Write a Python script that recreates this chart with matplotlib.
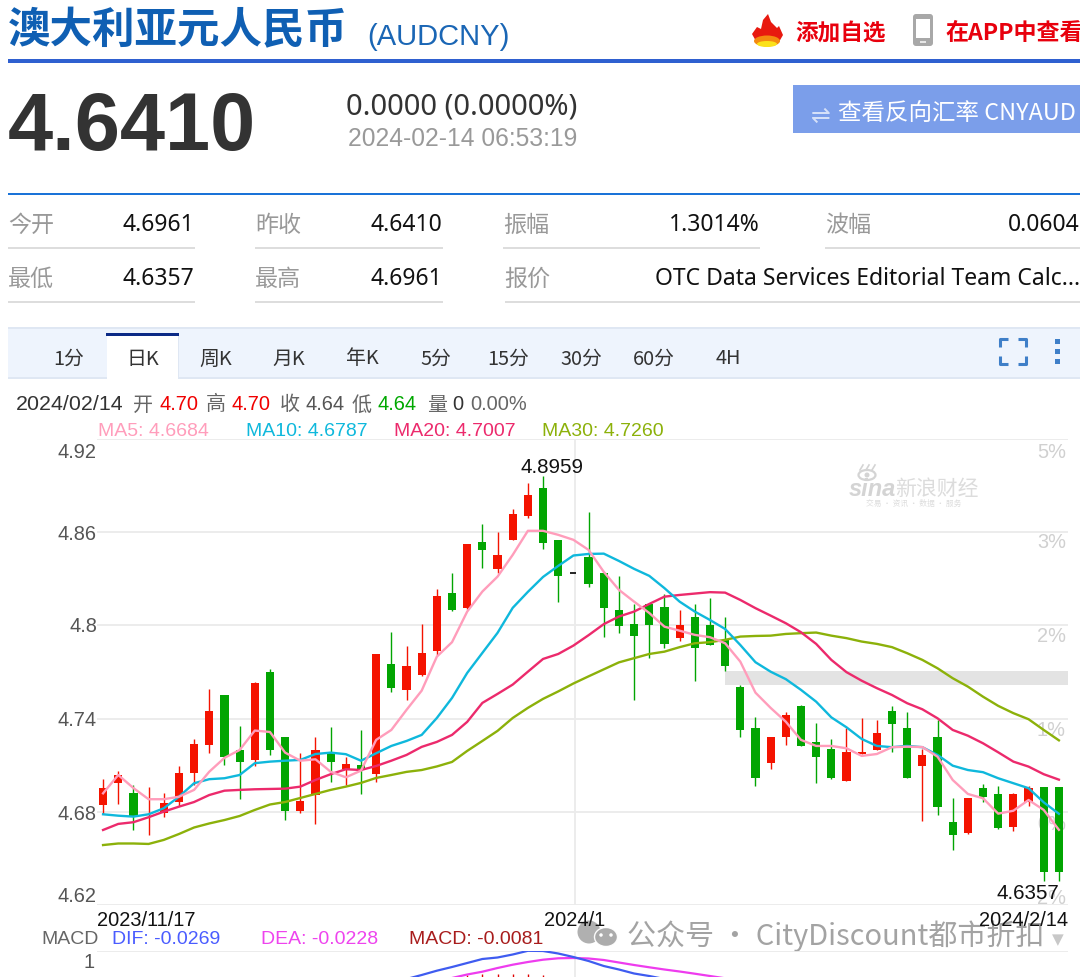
"""AUDCNY quote page with the daily K-line and MA overlays, saved as out.png."""
import matplotlib

matplotlib.use("Agg")
import matplotlib.pyplot as plt
from matplotlib.patches import Rectangle, Ellipse, Polygon, FancyBboxPatch

W, H = 1080, 977
CJK = ["Noto Sans CJK SC", "DejaVu Sans"]
ARIAL = "Liberation Sans"
RED = "#f41300"
GREEN = "#02a502"
C_MA5 = "#ff9dbb"
C_MA10 = "#0fb8dc"
C_MA20 = "#ec2a6c"
C_MA30 = "#8cb10a"
GRID = "#ebebeb"

# ---- data -------------------------------------------------------------------
opens = [4.6844, 4.6988, 4.6921, 4.6873, 4.6794, 4.6863, 4.7052, 4.7230, 4.7552, 4.7198,
         4.7134, 4.7701, 4.7282, 4.6805, 4.6908, 4.7187, 4.7074, 4.7102, 4.7042, 4.7752,
         4.7585, 4.7681, 4.7836, 4.8211, 4.8111, 4.8538, 4.8362, 4.8551, 4.8707, 4.8883,
         4.8549, 4.8336, 4.8441, 4.8338, 4.8098, 4.8012, 4.8138, 4.8117, 4.7921, 4.8055,
         4.8001, 4.7907, 4.7604, 4.7342, 4.7114, 4.7282, 4.7480, 4.7248, 4.7205, 4.7000,
         4.7174, 4.7200, 4.7447, 4.7342, 4.7093, 4.7280, 4.6735, 4.6662, 4.6953, 4.6913,
         4.6704, 4.6863, 4.6961, 4.6961]
closes = [4.6952, 4.7037, 4.6773, 4.6879, 4.6859, 4.7050, 4.7237, 4.7449, 4.7155, 4.7123,
          4.7628, 4.7198, 4.6807, 4.6870, 4.7198, 4.7123, 4.7110, 4.7076, 4.7814, 4.7596,
          4.7739, 4.7825, 4.8192, 4.8100, 4.8527, 4.8488, 4.8454, 4.8716, 4.8840, 4.8533,
          4.8321, 4.8336, 4.8267, 4.8111, 4.7995, 4.7932, 4.8003, 4.7881, 4.8001, 4.7857,
          4.7876, 4.7741, 4.7325, 4.7020, 4.7280, 4.7426, 4.7226, 4.7155, 4.7020, 4.7185,
          4.7185, 4.7310, 4.7366, 4.7020, 4.7166, 4.6831, 4.6653, 4.6891, 4.6894, 4.6694,
          4.6913, 4.6952, 4.6413, 4.6410]
highs = [4.7011, 4.7065, 4.6973, 4.6960, 4.6921, 4.7095, 4.7271, 4.7593, 4.7552, 4.7353,
         4.7636, 4.7720, 4.7282, 4.7181, 4.7282, 4.7346, 4.7153, 4.7327, 4.7814, 4.7960,
         4.7868, 4.8010, 4.8233, 4.8336, 4.8527, 4.8654, 4.8600, 4.8752, 4.8916, 4.8959,
         4.8549, 4.8336, 4.8729, 4.8338, 4.8319, 4.8138, 4.8138, 4.8201, 4.8100, 4.8136,
         4.8175, 4.8053, 4.7615, 4.7409, 4.7280, 4.7441, 4.7490, 4.7372, 4.7267, 4.7338,
         4.7402, 4.7391, 4.7483, 4.7441, 4.7203, 4.7391, 4.6887, 4.6891, 4.6979, 4.6966,
         4.6921, 4.6968, 4.6961, 4.6961]
lows = [4.6784, 4.6850, 4.6683, 4.6651, 4.6767, 4.6838, 4.6973, 4.7181, 4.7102, 4.6883,
        4.7095, 4.7166, 4.6747, 4.6794, 4.6722, 4.6994, 4.6973, 4.6915, 4.6994, 4.7572,
        4.7520, 4.7675, 4.7810, 4.8093, 4.8106, 4.8368, 4.8340, 4.8551, 4.8690, 4.8491,
        4.8153, 4.8336, 4.8250, 4.7928, 4.7950, 4.7518, 4.7793, 4.7857, 4.7902, 4.7644,
        4.7876, 4.7707, 4.7284, 4.6968, 4.7076, 4.7230, 4.7226, 4.6988, 4.7010, 4.7000,
        4.7174, 4.7200, 4.7185, 4.7020, 4.6739, 4.6782, 4.6552, 4.6657, 4.6865, 4.6689,
        4.6675, 4.6839, 4.6357, 4.6357]

ma5 = [4.6919, 4.7037, 4.6953, 4.6881, 4.6881, 4.6897, 4.6941, 4.7058, 4.7147, 4.7198,
       4.7323, 4.7314, 4.7181, 4.7129, 4.7138, 4.7058, 4.7022, 4.7065, 4.7263, 4.7327,
       4.7456, 4.7580, 4.7799, 4.7892, 4.8089, 4.8218, 4.8314, 4.8454, 4.8609, 4.8609,
       4.8583, 4.8551, 4.8486, 4.8345, 4.8229, 4.8153, 4.8080, 4.7992, 4.7966, 4.7939,
       4.7924, 4.7885, 4.7767, 4.7567, 4.7469, 4.7380, 4.7263, 4.7224, 4.7224, 4.7209,
       4.7160, 4.7172, 4.7216, 4.7219, 4.7217, 4.7155, 4.7005, 4.6915, 4.6887, 4.6788,
       4.6807, 4.6876, 4.6812, 4.6684]
ma10 = [4.6784, 4.6775, 4.6769, 4.6784, 4.6823, 4.6897, 4.6984, 4.7010, 4.7016, 4.7037,
        4.7113, 4.7123, 4.7129, 4.7134, 4.7172, 4.7181, 4.7171, 4.7129, 4.7177, 4.7224,
        4.7256, 4.7295, 4.7404, 4.7533, 4.7694, 4.7823, 4.7952, 4.8113, 4.8216, 4.8312,
        4.8383, 4.8450, 4.8460, 4.8462, 4.8415, 4.8364, 4.8319, 4.8240, 4.8153, 4.8089,
        4.8035, 4.7977, 4.7874, 4.7763, 4.7702, 4.7654, 4.7585, 4.7509, 4.7408, 4.7344,
        4.7269, 4.7224, 4.7216, 4.7224, 4.7216, 4.7166, 4.7097, 4.7069, 4.7055, 4.7016,
        4.6984, 4.6952, 4.6861, 4.6787]
ma20 = [4.6683, 4.6722, 4.6733, 4.6765, 4.6801, 4.6833, 4.6863, 4.6908, 4.6936, 4.6941,
        4.6945, 4.6947, 4.6949, 4.6962, 4.7005, 4.7042, 4.7074, 4.7069, 4.7095, 4.7129,
        4.7166, 4.7218, 4.7250, 4.7295, 4.7379, 4.7501, 4.7559, 4.7619, 4.7702, 4.7784,
        4.7816, 4.7870, 4.7937, 4.8008, 4.8057, 4.8089, 4.8138, 4.8185, 4.8196, 4.8205,
        4.8214, 4.8211, 4.8164, 4.8111, 4.8063, 4.8014, 4.7956, 4.7881, 4.7778, 4.7699,
        4.7644, 4.7596, 4.7552, 4.7499, 4.7460, 4.7402, 4.7327, 4.7290, 4.7241, 4.7183,
        4.7123, 4.7091, 4.7042, 4.7007]
ma30 = [4.6586, 4.6596, 4.6596, 4.6593, 4.6619, 4.6657, 4.6699, 4.6725, 4.6747, 4.6773,
        4.6812, 4.6847, 4.6863, 4.6889, 4.6915, 4.6941, 4.6962, 4.6986, 4.7018, 4.7037,
        4.7057, 4.7069, 4.7092, 4.7121, 4.7192, 4.7256, 4.7321, 4.7404, 4.7469, 4.7527,
        4.7575, 4.7626, 4.7672, 4.7717, 4.7762, 4.7789, 4.7816, 4.7831, 4.7860, 4.7885,
        4.7892, 4.7907, 4.7928, 4.7932, 4.7934, 4.7945, 4.7950, 4.7954, 4.7934, 4.7918,
        4.7896, 4.7881, 4.7860, 4.7821, 4.7778, 4.7724, 4.7660, 4.7606, 4.7541, 4.7482,
        4.7435, 4.7396, 4.7327, 4.7260]

price_ticks = [4.62, 4.68, 4.74, 4.80, 4.86, 4.92]
price_labels = ["4.62", "4.68", "4.74", "4.8", "4.86", "4.92"]
pct_labels = ["5%", "3%", "2%", "1%", "0%", "2%"]
date_labels = ["2023/11/17", "2024/1", "2024/2/14"]
month_tick = 31
band_low, band_high, band_start = 4.7617, 4.7707, 41

dif_idx = list(range(20, 38))
dif = [0.525, 0.625, 0.7325, 0.825, 0.925, 1.025, 1.0625, 1.1375, 1.23,
       1.225, 1.1625, 1.075, 0.975, 0.85, 0.7625, 0.6625, 0.6, 0.525]
dea_idx = list(range(22, 42))
dea = [0.475, 0.55, 0.6375, 0.7075, 0.8, 0.8825, 0.95, 1.0075, 1.0425, 1.05,
       1.0375, 1.0, 0.9375, 0.875, 0.8175, 0.7625, 0.7125, 0.6575, 0.6, 0.5425]
hist_idx = [24, 25, 26, 27, 28, 29]
hist = [0.62, 0.65, 0.64, 0.66, 0.65, 0.63]

tabs = ["1分", "日K", "周K", "月K", "年K", "5分", "15分", "30分", "60分", "4H"]
tab_x = [69, 143, 216, 289, 362, 436, 508, 581, 654, 728]

# ---- figure and page layer (pixel coordinates) -------------------------------
fig = plt.figure(figsize=(W / 100, H / 100), dpi=100, facecolor="white")
page = fig.add_axes([0, 0, 1, 1], zorder=1)
page.set_xlim(0, W)
page.set_ylim(H, 0)
page.axis("off")


def put(x, y, s, size, color="#333333", family=ARIAL, ha="left", weight="normal", **kw):
    # va="center" sits about 2px high against the reference text
    return page.text(x, y + 2, s, fontsize=size, color=color, family=family, ha=ha, va="center",
                     weight=weight, **kw)


def box(x0, y0, x1, y1, color, **kw):
    page.add_patch(Rectangle((x0, y0), x1 - x0, y1 - y0, fc=color, ec="none", **kw))


# header
put(8, 28, "澳大利亚元人民币", 30.6, "#0f5fb3", CJK, weight="bold")
put(367, 35, "(AUDCNY)", 21, "#1a66b5")
box(8, 59, W, 63, "#2f60d0")
page.add_patch(Polygon([(752, 34), (757, 27), (761, 29), (763, 20), (768, 14), (771, 22), (777, 28),
                        (779, 26), (783, 35), (779, 42), (768, 46), (757, 43)], fc="#e8190f", ec="none"))
page.add_patch(Ellipse((767, 41), 26, 11, fc="#f48a10", ec="none"))
page.add_patch(Ellipse((767, 44), 20, 6, fc="#fbe21a", ec="none"))
put(795, 32, "添加自选", 16.3, "#e8000d", CJK, weight="bold")
page.add_patch(FancyBboxPatch((914, 15), 18, 30, boxstyle="round,pad=1,rounding_size=3", fc="#a8a8a8", ec="none"))
box(916, 19, 930, 38, "white")
box(920, 41, 926, 43, "#e6e6e6")
put(945, 32, "在APP中查看", 16.6, "#e8000d", CJK, weight="bold")

# quote block
put(8, 127, "4.6410", 58.4, "#333333", weight="bold")
put(346, 105, "0.0000 (0.0000%)", 21, "#333333", "Noto Sans")
put(348, 137, "2024-02-14 06:53:19", 17.7, "#999999")
box(793, 85, W, 133, "#7b9eea")
put(811, 114, "⇌", 17, "#d5e0f8", "DejaVu Sans")
put(838, 111, "查看反向汇率 CNYAUD", 16.9, "white", CJK)
box(8, 193, W, 195, "#1a73d8")

# stats table
for x0, x1, y in [(8, 195, 248), (255, 443, 248), (503, 760, 248), (825, W, 248),
                  (8, 195, 302), (255, 443, 302), (505, W, 302)]:
    box(x0, y - 1, x1, y + 1, "#dddddd")
for x, y, s in [(8, 223, "今开"), (255, 223, "昨收"), (503, 223, "振幅"), (825, 223, "波幅"),
                (8, 277, "最低"), (255, 277, "最高"), (504, 277, "报价")]:
    put(x, y, s, 16.6, "#999999", CJK)
for x, y, s in [(194, 223, "4.6961"), (442, 223, "4.6410"), (760, 223, "1.3014%"), (1080, 223, "0.0604"),
                (194, 277, "4.6357"), (442, 277, "4.6961"), (1080, 277, "OTC Data Services Editorial Team Calc...")]:
    put(x, y, s, 16.5, "#111111", "Noto Sans", ha="right")

# tab bar
box(8, 328, W, 378, "#eef4fd")
box(8, 327, W, 329, "#dfe7f3")
box(8, 377, W, 379, "#dfe7f3")
box(107, 334, 178, 379, "white")
box(106, 333, 179, 336, "#0b2a86")
box(178, 336, 179, 379, "#dfe7f3")
for x, s in zip(tab_x, tabs):
    put(x, 357, s, 14.3, "#333333", CJK, ha="center")
for x0, y0, dx, dy in [(1000, 339, 1, 1), (1026, 339, -1, 1), (1000, 364, 1, -1), (1026, 364, -1, -1)]:
    page.plot([x0 + 8 * dx, x0, x0], [y0, y0, y0 + 8 * dy], color="#3f7fc8", lw=2.2, solid_capstyle="butt")
for y in (341, 351, 361):
    box(1055, y - 2.5, 1060, y + 2.5, "#3f7fc8")

# info and legend lines
put(16, 403, "2024/02/14", 15.4, "#333333")
for x, s, c in [(159, "4.70", "#f00000"), (232, "4.70", "#f00000"), (305, "4.64", "#555555"),
                (378, "4.64", "#00a800"), (452, "0", "#333333"), (470, "0.00%", "#666666")]:
    put(x, 403, s, 14.4, c)
for x, s in [(133, "开"), (206, "高"), (280, "收"), (352, "低"), (427, "量")]:
    put(x, 403, s, 14.4, "#666666", CJK)
for x, s, c in [(98, "MA5: 4.6684", C_MA5), (246, "MA10: 4.6787", C_MA10),
                (394, "MA20: 4.7007", C_MA20), (542, "MA30: 4.7260", C_MA30)]:
    put(x, 429, s, 14, c)

# axis labels around the price panel
for y, s in zip([895, 812, 718, 625, 532, 450], price_labels):
    put(97, y, s, 14.4, "#555555", ha="right")
for y, s in zip([450, 541, 635, 728, 822, 897], pct_labels):
    put(1066, y, s, 14.4, "#d0d0d0", ha="right")

# sina watermark
page.add_patch(Ellipse((867, 475), 17, 10, fc="none", ec="#d4d4d4", lw=1.6))
page.add_patch(Ellipse((867, 475), 5, 5, fc="#d4d4d4", ec="none"))
for x in (860, 866, 872):
    page.plot([x, x + 3], [470, 465], color="#d4d4d4", lw=1.2)
put(849, 487, "sina", 17, "#d4d4d4", weight="bold", style="italic")
put(895, 487, "新浪财经", 15, "#dcdcdc", CJK, style="italic")
put(866, 502, "交易 · 资讯 · 数据 · 服务", 5.6, "#dddddd", CJK)

# ---- price panel -------------------------------------------------------------
x0_px, x1_px, top_px, bot_px = 97, 1068, 439, 905
ax = fig.add_axes([x0_px / W, 1 - bot_px / H, (x1_px - x0_px) / W, (bot_px - top_px) / H], zorder=2)
ax.patch.set_alpha(0)
ax.set_xlim(-0.4, 63.6)
ax.set_ylim(price_ticks[0], price_ticks[-1])
ax.set_yticks(price_ticks)
ax.set_xticks([month_tick + 0.1])
ax.tick_params(length=0, labelleft=False, labelbottom=False)
ax.grid(True, color=GRID, lw=1.3)
ax.set_axisbelow(True)
for s in ax.spines.values():
    s.set_visible(False)
ax.axhspan(band_low, band_high, xmin=(band_start + 0.4) / 64, color="#e3e3e3", lw=0, zorder=1)

for i, (o, c, h, l) in enumerate(zip(opens, closes, highs, lows)):
    if o == c:
        ax.hlines(o, i - 0.2, i + 0.2, color="black", lw=1.2, zorder=3)
        continue
    col = RED if c > o else GREEN
    ax.vlines(i, l, h, color=col, lw=1.0, zorder=3)
    ax.bar(i, abs(c - o), bottom=min(o, c), width=0.54, color=col, lw=0, zorder=3)

xs = list(range(len(ma5)))
ax.plot(xs, ma30, color=C_MA30, lw=1.7, zorder=4)
ax.plot(xs, ma20, color=C_MA20, lw=1.7, zorder=4)
ax.plot(xs, ma10, color=C_MA10, lw=1.7, zorder=4)
ax.plot(xs, ma5, color=C_MA5, lw=1.7, zorder=4)

ax.annotate(f"{max(highs):.4f}", (highs.index(max(highs)), max(highs)), xytext=(6.5, -0.5),
            textcoords="offset points", ha="center", va="bottom", fontsize=14.8, family=ARIAL, color="#111111")
ax.annotate(f"{min(lows):.4f}", (len(lows) - 1, min(lows)), xytext=(0.5, -2.5), textcoords="offset points",
            ha="right", va="top", fontsize=14.8, family=ARIAL, color="#111111", annotation_clip=False)

# ---- MACD panel (only its top edge is on the page) ---------------------------
macd_top, macd_bot = 951, H
mx = fig.add_axes([x0_px / W, 1 - macd_bot / H, (x1_px - x0_px) / W, (macd_bot - macd_top) / H], zorder=2)
mx.patch.set_alpha(0)
mx.set_xlim(-0.4, 63.6)
mx.set_ylim(0.575, 1.225)
mx.set_xticks([month_tick + 0.1])
mx.set_yticks([1.225])
mx.tick_params(length=0, labelleft=False, labelbottom=False)
mx.grid(True, color=GRID, lw=1.3)
for s in mx.spines.values():
    s.set_visible(False)
mx.vlines(hist_idx, 0.5, hist, color="#e00000", lw=1.0)
mx.plot(dea_idx, dea, color="#ee3cee", lw=1.6)
mx.plot(dif_idx, dif, color="#3f5cf0", lw=1.6)

put(97, 919, date_labels[0], 14.4, "#111111")
put(575, 919, date_labels[1], 14.4, "#111111", ha="center", zorder=6)
put(1068, 919, date_labels[2], 14.4, "#111111", ha="right", zorder=6)
put(41, 938, "MACD", 14, "#666666")
put(112, 938, "DIF: -0.0269", 14, "#4a5cff")
put(261, 938, "DEA: -0.0228", 14, "#ee44ee")
put(409, 938, "MACD: -0.0081", 14, "#a81c1c")
put(95, 961, "1", 14.4, "#555555", ha="right")

# wechat watermark
page.add_patch(Ellipse((589, 932), 23, 23, fc="#a8a8a8", ec="none", alpha=0.9))
page.add_patch(Ellipse((606, 937), 23, 19, fc="#a8a8a8", ec="white", lw=1, alpha=0.95))
for x in (601, 611):
    page.add_patch(Ellipse((x, 935), 3.5, 3.5, fc="white", ec="none"))
put(627, 934, "公众号 · CityDiscount都市折扣", 20.9, "#8c8c8c", CJK, alpha=0.8)
put(1052, 938, "▼", 11, "#c8c8c8", "DejaVu Sans")

fig.savefig("out.png", dpi=100)
